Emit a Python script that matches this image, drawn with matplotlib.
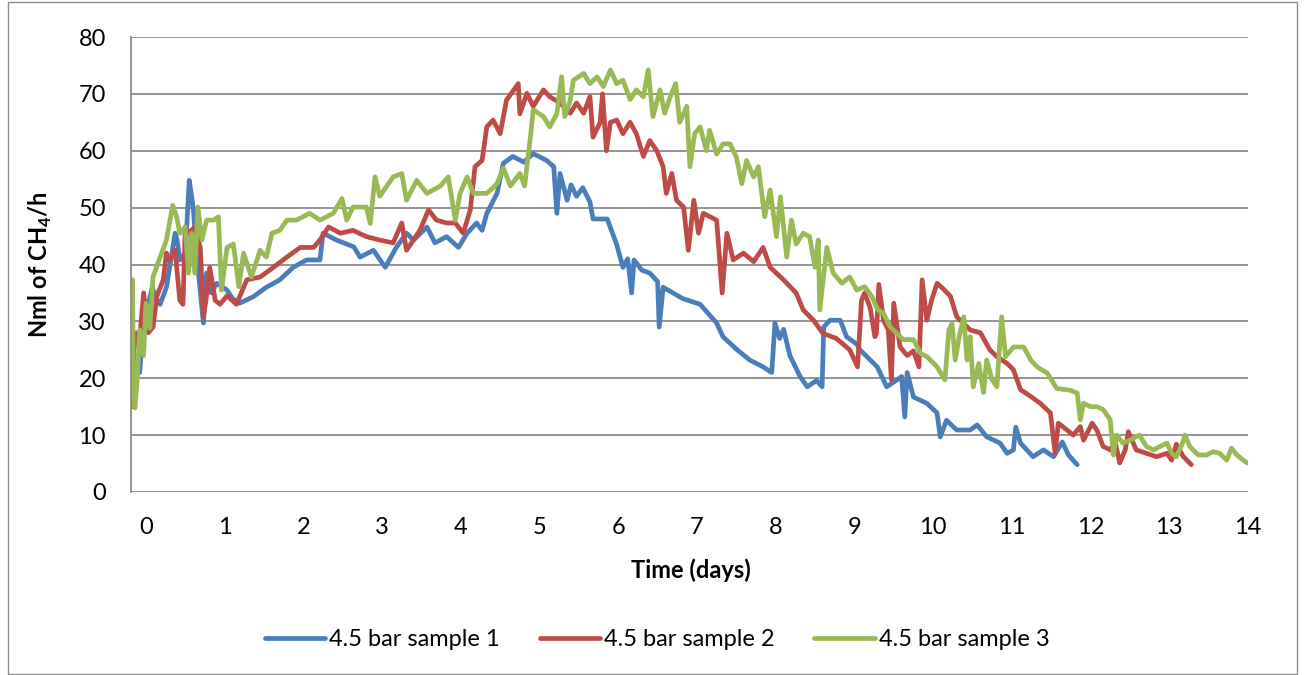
import matplotlib
matplotlib.use("Agg")
import matplotlib.pyplot as plt
from matplotlib.patches import Rectangle

# ---- data (time in days, Nml CH4/h) ----
t1 = [-0.15, -0.08, -0.03, 0.03, 0.08, 0.13, 0.18, 0.26, 0.33, 0.37, 0.40, 0.43, 0.50, 0.55, 0.58, 0.60,
      0.66, 0.73, 0.77, 0.83, 0.90, 1.03, 1.10, 1.19, 1.36, 1.53, 1.70, 1.87, 2.04, 2.21, 2.25, 2.42,
      2.64, 2.72, 2.89, 3.04, 3.18, 3.31, 3.40, 3.57, 3.67, 3.82, 3.97, 4.08, 4.20, 4.27, 4.33, 4.46,
      4.54, 4.66, 4.80, 4.92, 5.09, 5.18, 5.22, 5.26, 5.35, 5.40, 5.47, 5.55, 5.64, 5.68, 5.86, 5.98,
      6.06, 6.12, 6.17, 6.20, 6.30, 6.40, 6.50, 6.52, 6.57, 6.82, 7.04, 7.25, 7.33, 7.51, 7.67, 7.84,
      7.95, 7.99, 8.05, 8.10, 8.18, 8.31, 8.40, 8.52, 8.59, 8.61, 8.69, 8.82, 8.90, 9.03, 9.07, 9.29,
      9.41, 9.54, 9.60, 9.64, 9.67, 9.75, 9.92, 10.05, 10.09, 10.17, 10.30, 10.47, 10.56, 10.68, 10.85,
      10.94, 11.02, 11.05, 11.11, 11.27, 11.40, 11.53, 11.64, 11.72, 11.83]
v1 = [24, 21, 30, 33, 36, 34, 33, 36, 42, 45.5, 44, 40.8, 42, 54.8, 52, 50,
      39.5, 29.7, 38.5, 35, 36.7, 35.5, 34, 33.2, 34.3, 36, 37.3, 39.5, 40.8, 40.8, 45.5, 44.3,
      43.1, 41.3, 42.5, 39.5, 43, 45.5, 44.3, 46.6, 43.8, 44.9, 43, 45.5, 47.3, 46, 49, 52.5,
      57.8, 59, 58, 59.5, 58.3, 57.2, 49, 56, 51.3, 54, 52, 53.5, 51, 48, 48, 43.5,
      39.5, 41, 35, 40.8, 39, 38.5, 37, 29, 36, 34, 33, 29.7, 27.3, 25, 23.2, 22,
      21, 29.7, 27, 28.6, 24, 20.3, 18.5, 19.6, 18.5, 29, 30.2, 30.2, 27.3, 26, 25, 22,
      18.5, 19.7, 20.3, 13.2, 21, 16.7, 15.6, 13.9, 9.7, 12.6, 10.9, 10.9, 11.8, 9.7, 8.6,
      6.8, 7.4, 11.4, 8.6, 6.2, 7.4, 6.2, 8.8, 6.5, 4.8]

t2 = [-0.18, -0.16, -0.12, -0.08, -0.03, 0.03, 0.09, 0.14, 0.22, 0.26, 0.30, 0.37, 0.43, 0.47, 0.50, 0.54,
      0.62, 0.69, 0.73, 0.77, 0.81, 0.88, 0.94, 1.03, 1.15, 1.28, 1.45, 1.62, 1.79, 1.96, 2.13, 2.21,
      2.32, 2.47, 2.63, 2.80, 2.97, 3.14, 3.25, 3.31, 3.48, 3.59, 3.69, 3.82, 3.93, 4.03, 4.12, 4.18,
      4.27, 4.33, 4.41, 4.50, 4.58, 4.73, 4.75, 4.84, 4.92, 5.05, 5.13, 5.26, 5.39, 5.47, 5.56, 5.64,
      5.68, 5.77, 5.80, 5.85, 5.90, 5.98, 6.06, 6.15, 6.23, 6.32, 6.40, 6.49, 6.57, 6.61, 6.68, 6.74,
      6.83, 6.89, 6.96, 7.02, 7.08, 7.25, 7.32, 7.38, 7.46, 7.59, 7.72, 7.84, 7.93, 8.10, 8.26, 8.35,
      8.48, 8.60, 8.77, 8.94, 9.04, 9.09, 9.13, 9.20, 9.26, 9.28, 9.31, 9.37, 9.43, 9.47, 9.50, 9.58,
      9.67, 9.75, 9.82, 9.86, 9.92, 9.98, 10.05, 10.13, 10.22, 10.30, 10.39, 10.47, 10.60, 10.72, 10.81,
      10.94, 11.02, 11.11, 11.24, 11.36, 11.49, 11.55, 11.59, 11.70, 11.78, 11.87, 11.91, 12.02, 12.08,
      12.16, 12.25, 12.31, 12.37, 12.44, 12.48, 12.58, 12.71, 12.84, 12.97, 13.03, 13.09, 13.18, 13.28]
v2 = [15, 24.4, 28, 27, 35, 28, 29, 34.5, 37.3, 42, 40.8, 42.5, 33.7, 33, 46.6, 45.5,
      46.6, 43, 30.8, 34.5, 39.5, 33.7, 33, 34.5, 33, 37.3, 37.8, 39.5, 41.3, 43, 43, 44.3,
      46.6, 45.5, 46, 44.9, 44.3, 43.8, 47.3, 42.5, 46, 49.6, 47.8, 47.3, 47.3, 45.5, 49.6, 57.2,
      58.3, 64.2, 65.4, 63, 68.9, 71.8, 66.5, 70.1, 67.8, 70.7, 69.5, 68.4, 66.6, 68.4, 66.6, 69.5,
      62.4, 65, 70, 60, 65, 65.4, 63, 65, 63, 59, 61.8, 60, 57.2, 52.5, 56, 51.3,
      50.1, 42.5, 51.3, 45.5, 49, 47.8, 35, 45.5, 40.8, 42, 40.5, 43, 39.5, 37.3, 35, 32,
      30.2, 27.9, 27, 25, 22, 33.7, 35, 32.4, 27.3, 27.9, 36.5, 30.2, 28.5, 19.7, 33.2, 25.5,
      24, 24.8, 22, 37.3, 30.2, 33.7, 36.7, 35.7, 34.4, 30.8, 29.6, 28.5, 28, 25, 23.8,
      22.6, 21.5, 18, 16.8, 15.6, 13.9, 6.8, 12.1, 10.9, 10, 11.5, 9.1, 12.1, 10.9,
      8, 7.4, 9, 5.1, 7.4, 10.6, 7.4, 6.8, 6.2, 6.8, 5.6, 8.4, 6.2, 4.8]

t3 = [-0.17, -0.16, -0.14, -0.11, -0.08, -0.03, 0.0, 0.05, 0.09, 0.18, 0.26, 0.34, 0.39, 0.43, 0.50, 0.54,
      0.58, 0.62, 0.66, 0.71, 0.77, 0.86, 0.92, 0.96, 1.03, 1.11, 1.18, 1.24, 1.34, 1.45, 1.53, 1.60,
      1.70, 1.79, 1.91, 2.08, 2.21, 2.38, 2.49, 2.55, 2.63, 2.80, 2.85, 2.91, 2.97, 3.06, 3.14, 3.25,
      3.31, 3.44, 3.57, 3.74, 3.84, 3.93, 3.99, 4.08, 4.16, 4.33, 4.46, 4.54, 4.63, 4.75, 4.81, 4.88,
      4.92, 5.05, 5.13, 5.22, 5.28, 5.32, 5.39, 5.43, 5.56, 5.64, 5.73, 5.81, 5.90, 5.98, 6.06, 6.15,
      6.23, 6.32, 6.38, 6.44, 6.53, 6.59, 6.66, 6.73, 6.78, 6.87, 6.91, 6.97, 7.04, 7.12, 7.16, 7.25,
      7.33, 7.42, 7.50, 7.57, 7.63, 7.72, 7.78, 7.86, 7.93, 8.01, 8.06, 8.14, 8.20, 8.26, 8.35, 8.43,
      8.50, 8.54, 8.56, 8.65, 8.73, 8.84, 8.94, 9.03, 9.13, 9.22, 9.30, 9.37, 9.45, 9.54, 9.62, 9.75,
      9.84, 9.92, 10.05, 10.15, 10.20, 10.24, 10.28, 10.34, 10.39, 10.43, 10.47, 10.51, 10.58, 10.64,
      10.68, 10.75, 10.81, 10.87, 10.92, 11.02, 11.15, 11.24, 11.32, 11.45, 11.57, 11.74, 11.83, 11.87,
      11.91, 12.00, 12.08, 12.16, 12.25, 12.29, 12.33, 12.41, 12.50, 12.62, 12.71, 12.80, 12.88, 12.97,
      13.03, 13.09, 13.16, 13.20, 13.26, 13.37, 13.47, 13.56, 13.64, 13.73, 13.79, 13.86, 13.94, 13.99]
v3 = [37.3, 18.5, 14.8, 20, 28.5, 24, 33.2, 28.8, 37.8, 41.3, 44.3, 50.4, 48.4, 45.5, 46.6, 38.5,
      45.5, 38.5, 50.1, 44.3, 47.8, 47.8, 48.4, 35.5, 43, 43.6, 36.1, 42, 37.8, 42.5, 41.3, 45.5,
      46, 47.8, 47.8, 49, 47.8, 49, 51.6, 47.8, 50.1, 50.1, 47.2, 55.4, 52, 53.8, 55.4, 56,
      51.3, 54.8, 52.5, 53.8, 55.4, 47.8, 52.5, 55.4, 52.5, 52.5, 54.2, 57, 53.8, 56, 53.8, 61.9,
      67.2, 66, 64.2, 66.5, 73, 66, 68.9, 72.4, 73.6, 71.8, 73, 71.3, 74.2, 71.8, 72.4, 69,
      70.7, 69.5, 74.2, 66, 70.7, 66.6, 69.5, 71.8, 65, 67.8, 57.2, 63, 64.2, 60, 63.6, 59.4,
      61.2, 61.2, 58.9, 54.2, 58.3, 55.4, 57.2, 48.4, 53.1, 44.9, 51.9, 41.3, 47.8, 43.6, 45.5, 44.9,
      39.5, 44.3, 32, 43, 38.5, 36.7, 37.8, 35.5, 36.1, 34.4, 32, 31.4, 29.1, 27.9, 26.8, 26.8,
      24.4, 23.8, 22, 19.7, 28.5, 29.6, 23.2, 27.9, 30.8, 23.2, 27.3, 18.5, 22.6, 17.5,
      23.2, 19.7, 18.5, 30.8, 23.8, 25.5, 25.5, 23.2, 22, 20.9, 18.2, 17.9, 17.4, 12.7,
      15.6, 15, 15, 14.5, 12.7, 6.5, 10, 8.6, 9.1, 10, 8, 7.4, 8, 8.6,
      6.8, 6.2, 8.3, 10, 8, 6.5, 6.5, 7.1, 6.8, 5.6, 7.7, 6.5, 5.6, 5.1]

labels = ["4.5 bar sample 1", "4.5 bar sample 2", "4.5 bar sample 3"]
colors = ["#4A7EBB", "#BE4B48", "#98B954"]
x_ticks = list(range(0, 15))
y_ticks = list(range(0, 81, 10))

plt.rcParams['font.family'] = ['Lato', 'DejaVu Sans']
plt.rcParams['mathtext.fontset'] = 'custom'
plt.rcParams['mathtext.bf'] = 'Lato:bold'
plt.rcParams['mathtext.rm'] = 'Lato'

FS = 17
W, H = 1305, 675
fig = plt.figure(figsize=(W / 100, H / 100), dpi=100)
fig.patches.append(Rectangle((8 / W, 1 / H), 1289 / W, 672 / H, transform=fig.transFigure,
                             fill=False, edgecolor="#8C8C8C", linewidth=1.0))

ax = fig.add_axes([131 / W, 183 / H, (1248 - 131) / W, (492 - 37) / H])
for t, v, c, lab in zip([t1, t2, t3], [v1, v2, v3], colors, labels):
    ax.plot(t, v, color=c, lw=3.4, label=lab, solid_joinstyle='round', solid_capstyle='round')

ax.set_xlim(-0.19, 14)
ax.set_ylim(0, 80)
ax.set_xticks(x_ticks)
ax.set_yticks(y_ticks)
ax.tick_params(axis='both', length=0, labelsize=FS, colors='black')
ax.tick_params(axis='y', pad=18)
ax.tick_params(axis='x', pad=18)
ax.grid(axis='y', color='#8C8C8C', lw=1.3)
ax.set_axisbelow(True)
for s in ['top', 'right', 'bottom']:
    ax.spines[s].set_visible(False)
ax.spines['left'].set_color('#8C8C8C')
ax.spines['left'].set_linewidth(1.3)

fig.text(691 / W, 1 - 570 / H, "Time (days)", ha='center', va='center', fontsize=FS, fontweight='bold')
fig.text(40 / W, 1 - 265 / H, r"Nml of CH$_\mathbf{4}$/h", ha='center', va='center', rotation=90,
         fontsize=FS, fontweight='bold')

fig.legend(*ax.get_legend_handles_labels(), loc='center', bbox_to_anchor=(657 / W, 1 - 640 / H),
           ncol=3, frameon=False, fontsize=FS, handlelength=2.55, handletextpad=0.17,
           columnspacing=1.7)

fig.savefig("out.png", dpi=100)
